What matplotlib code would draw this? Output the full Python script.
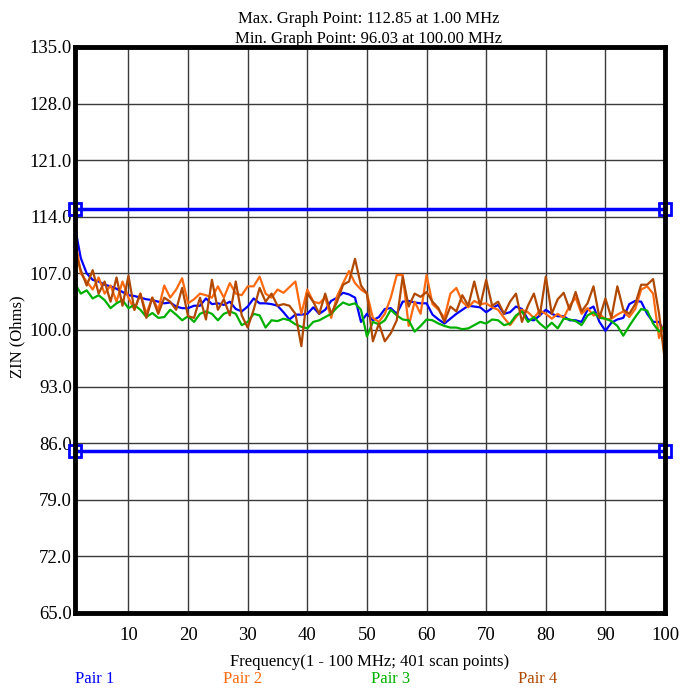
import numpy as np
import matplotlib
matplotlib.use("Agg")
import matplotlib.pyplot as plt

plt.rcParams['font.family'] = ['Liberation Serif', 'DejaVu Serif']

freq = list(range(1, 101))

pair1 = [112.85, 108.9, 107.0, 106.2, 106.0, 105.6, 105.4, 105.1, 104.7, 104.3,
         104.2, 104.0, 103.8, 103.7, 103.5, 103.3, 103.4, 102.9, 102.7, 102.7,
         103.0, 103.0, 103.9, 103.2, 103.3, 103.1, 103.5, 102.6, 102.3, 102.9,
         103.9, 103.3, 103.3, 103.2, 103.0, 102.2, 101.3, 101.9, 101.9, 102.0,
         102.8, 102.0, 102.5, 103.6, 104.0, 104.6, 104.4, 104.0, 101.0, 102.0,
         101.2, 101.6, 102.6, 102.7, 102.0, 103.5, 103.6, 103.4, 103.3, 103.3,
         101.9, 101.3, 100.8, 101.4, 102.0, 102.5, 103.0, 102.9, 102.8, 102.2,
         102.7, 103.1, 102.0, 102.2, 102.9, 102.6, 101.3, 101.2, 101.8, 102.5,
         102.0, 101.7, 101.7, 101.2, 101.2, 101.0, 102.5, 102.9, 101.0, 99.9,
         100.9, 101.3, 101.5, 103.2, 103.6, 103.5, 102.0, 101.0, 101.0, 99.5]

pair2 = [111.5, 107.0, 106.0, 105.0, 106.5, 104.5, 105.5, 103.5, 106.0, 104.0,
         102.5, 104.5, 102.0, 104.0, 102.5, 105.5, 104.0, 105.0, 106.4, 103.3,
         103.8, 104.5, 104.3, 104.0, 105.4, 104.0, 105.8, 104.5, 104.3, 105.4,
         105.4, 106.6, 104.5, 104.0, 105.0, 104.6, 105.3, 106.0, 102.0, 105.0,
         103.5, 103.3, 104.0, 101.5, 104.2, 105.8, 107.3, 105.8, 105.0, 104.5,
         101.5, 101.0, 102.0, 104.0, 106.8, 106.8, 100.5, 103.5, 102.0, 106.8,
         103.2, 102.5, 101.5, 104.5, 105.2, 103.5, 102.8, 103.6, 103.2, 103.3,
         102.8, 102.5, 101.5, 100.6, 101.6, 102.5, 102.2, 101.5, 102.4, 102.0,
         101.4, 102.0, 101.5, 103.0, 104.0, 102.0, 102.7, 101.8, 102.0, 101.3,
         101.4, 101.9, 102.3, 101.6, 102.6, 105.0, 105.4, 104.5, 99.0, 101.0]

pair3 = [105.8, 104.5, 104.9, 103.9, 104.3, 103.7, 102.7, 103.3, 103.7, 102.7,
         103.1, 102.5, 101.6, 102.1, 101.5, 101.6, 102.5, 101.9, 101.2, 101.7,
         101.0, 102.0, 102.3, 102.0, 101.2, 102.0, 102.3, 102.0, 100.6, 101.0,
         102.0, 101.8, 100.3, 101.2, 101.1, 101.4, 101.2, 100.7, 100.4, 100.2,
         101.0, 101.2, 101.6, 102.0, 102.8, 103.4, 103.1, 103.3, 102.5, 99.2,
         101.0, 100.7, 101.2, 102.5, 101.8, 101.3, 101.2, 99.8, 100.5, 101.3,
         101.2, 100.8, 100.5, 100.3, 100.3, 100.1, 100.2, 100.6, 101.0, 100.8,
         101.3, 101.2, 100.6, 100.8, 101.8, 102.3, 101.0, 101.6, 100.8, 100.2,
         100.9, 100.2, 101.4, 101.3, 101.1, 100.6, 101.8, 102.2, 101.5, 101.4,
         101.1, 100.5, 99.3, 100.5, 101.6, 102.6, 102.4, 100.8, 99.8, 100.5]

pair4 = [109.9, 107.4, 105.5, 107.4, 104.5, 106.0, 103.5, 106.5, 103.0, 106.7,
         102.5, 104.5, 101.5, 104.0, 102.0, 104.0, 103.5, 102.5, 105.2, 101.7,
         101.5, 104.0, 101.3, 106.2, 102.5, 103.8, 101.8, 106.0, 101.8, 100.3,
         102.5, 105.2, 103.5, 104.5, 103.0, 103.2, 103.0, 102.0, 98.0, 104.5,
         103.5, 102.0, 104.5, 102.0, 103.5, 105.6, 106.0, 108.8, 105.5, 104.5,
         98.6, 100.8, 98.6, 99.6, 101.2, 106.6, 102.9, 104.5, 104.1, 104.7,
         103.5, 102.7, 101.0, 102.9, 102.3, 104.3, 103.0, 106.0, 103.0, 106.2,
         103.0, 103.5, 102.0, 103.5, 104.5, 101.0, 103.0, 104.5, 101.8, 106.6,
         102.0, 103.8, 104.6, 102.5, 104.7, 102.3, 103.3, 105.4, 101.5, 103.9,
         101.5, 105.4, 102.5, 102.0, 103.2, 105.6, 105.6, 106.3, 102.0, 96.03]

series_names = ["Pair 1", "Pair 2", "Pair 3", "Pair 4"]
series_colors = ["#0000ff", "#ff6a10", "#00b000", "#b04800"]
limits = [115.0, 85.0]
y_ticks = [65.0, 72.0, 79.0, 86.0, 93.0, 100.0, 107.0, 114.0, 121.0, 128.0, 135.0]
x_ticks = [10, 20, 30, 40, 50, 60, 70, 80, 90, 100]

fig = plt.figure(figsize=(6.8, 6.9), dpi=100)
ax = fig.add_axes([0.110, 0.1116, 0.868, 0.8203])
ax.set_xlim(1, 100)
ax.set_ylim(65, 135)

for xt in x_ticks[:-1]:
    ax.axvline(xt, color="#3a3a3a", lw=1.0, zorder=1)
for yt in y_ticks[1:-1]:
    ax.axhline(yt, color="#3a3a3a", lw=1.0, zorder=1)

for data, c in zip([pair1, pair2, pair3, pair4], series_colors):
    ax.plot(freq, data, color=c, lw=1.6, zorder=3)

for lim in limits:
    ax.plot([freq[0], freq[-1]], [lim, lim], color="#0000ff", lw=2.5, zorder=4,
             marker="s", markersize=9, markerfacecolor="none",
             markeredgewidth=2, clip_on=False)

ax.set_xticks(x_ticks)
ax.set_xticklabels([str(v) for v in x_ticks], fontsize=13.5)
ax.set_yticks(y_ticks)
ax.set_yticklabels([f"{v:.1f}" for v in y_ticks], fontsize=13.5)
ax.tick_params(axis="both", length=0, pad=2)
ax.tick_params(axis="x", pad=10)
for s in ax.spines.values():
    s.set_linewidth(3.5)
    s.set_color("black")
    s.set_zorder(5)

ax.set_xlabel("Frequency(1 - 100 MHz; 401 scan points)", fontsize=12, labelpad=7)
ax.set_ylabel("ZIN (Ohms)", fontsize=12)
ax.yaxis.set_label_coords(-0.084, 0.488)

fig.text(0.5425, 0.973, "Max. Graph Point: 112.85 at 1.00 MHz", ha="center", va="center", fontsize=12)
fig.text(0.5425, 0.944, "Min. Graph Point: 96.03 at 100.00 MHz", ha="center", va="center", fontsize=12)

legend_x = [0.139, 0.356, 0.574, 0.790]
for name, c, lx in zip(series_names, series_colors, legend_x):
    fig.text(lx, 0.005, name, color=c, ha="center", va="bottom", fontsize=12)

fig.savefig("out.png", dpi=100)
